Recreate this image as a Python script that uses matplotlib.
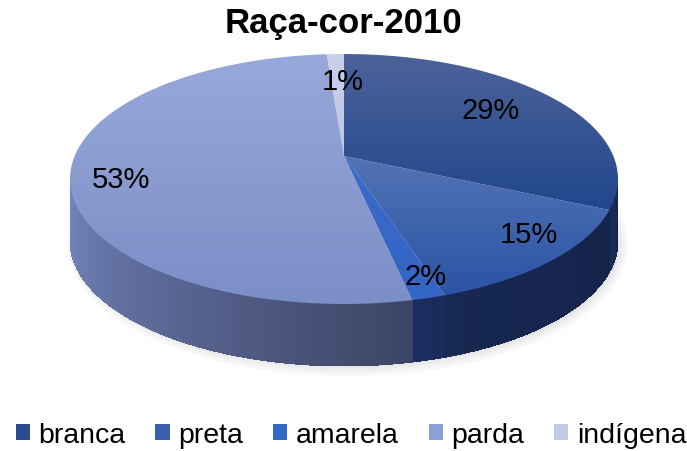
import numpy as np
import matplotlib.pyplot as plt
from matplotlib.patches import Polygon, Patch, Ellipse
from matplotlib.collections import PolyCollection
from matplotlib.colors import to_rgb

plt.rcParams['font.family'] = ['Liberation Sans', 'DejaVu Sans']

# ---------------------------------------------------------------------------
# Data
# ---------------------------------------------------------------------------
title = 'Raça-cor-2010'
labels = ['branca', 'preta', 'amarela', 'parda', 'indígena']
values = [29, 15, 2, 53, 1]

# ---------------------------------------------------------------------------
# Style (top gradient top->bottom, side gradient along the rim, legend swatch)
# ---------------------------------------------------------------------------
top_colors = [('#4d6399', '#21468d'), ('#5473b5', '#2a54a5'), ('#3c6ccb', '#3365c4'),
              ('#98a8da', '#7b8ec6'), ('#c9d1eb', '#bcc6e4')]
side_colors = [('#1a2b58', '#16264c'), ('#172851', '#14234a'), ('#1b2d60', '#1a2c5c'),
               ('#7587c0', '#3b4463'), ('#b0b9d8', '#b0b9d8')]
legend_colors = ['#2e4b8f', '#3a5fae', '#3468c8', '#8c9fd6', '#c3cbe5']
label_nudge = [(-27, 4), (20, 1), (14, 14), (-7, -4), (6, 14)]

W, H = 687, 452
CX, CY = 344, 180          # ellipse centre (pixels)
TIP = (344, 157)           # where the slices meet
A, B = 274, 125            # semi axes
DEPTH = 62


def ell(t):
    t = np.radians(t)
    return CX + A * np.cos(t), CY - B * np.sin(t)


fig = plt.figure(figsize=(W / 100, H / 100), dpi=100)
ax = fig.add_axes([0, 0, 1, 1])
ax.set_xlim(0, W)
ax.set_ylim(H, 0)
ax.axis('off')

# slice angles, clockwise from 12 o'clock
total = sum(values)
bounds = 90 - 360 * np.concatenate([[0], np.cumsum(values)]) / total

# soft shadow
for k, al in enumerate([0.05, 0.05, 0.06, 0.07]):
    ax.add_patch(Ellipse((CX + 4, CY + DEPTH + 4), 2 * (A + 6 - 3 * k), 2 * (B + 6 - 3 * k),
                         color='#888888', alpha=al, lw=0, zorder=0))

# side walls (only the front half of the rim is visible)
for i in range(len(values)):
    t_end, t_start = bounds[i], bounds[i + 1]   # t_start < t_end
    lo = t_start % 360
    hi = lo + (t_end - t_start)
    lo_v, hi_v = max(lo, 180), min(hi, 360)
    if hi_v <= lo_v:
        continue
    ts = np.linspace(lo_v, hi_v, 80)
    c0, c1 = np.array(to_rgb(side_colors[i][0])), np.array(to_rgb(side_colors[i][1]))
    quads, cols = [], []
    for j in range(len(ts) - 1):
        x0, y0 = ell(ts[j])
        x1, y1 = ell(min(ts[j + 1] + 0.3, hi_v))
        quads.append([(x0, y0), (x1, y1), (x1, y1 + DEPTH), (x0, y0 + DEPTH)])
        f = (j + 0.5) / (len(ts) - 1)
        cols.append(c0 * (1 - f) + c1 * f)
    ax.add_collection(PolyCollection(quads, facecolors=cols, edgecolors='none',
                                     antialiaseds=False, zorder=1))

# top surface
for i in range(len(values)):
    ts = np.linspace(bounds[i + 1], bounds[i], 120)
    xs, ys = ell(ts)
    pts = [TIP] + list(zip(xs, ys))
    poly = Polygon(pts, closed=True, facecolor='none', edgecolor='none', zorder=2)
    ax.add_patch(poly)
    y_top, y_bot = min(min(ys), TIP[1]), max(max(ys), TIP[1])
    c0, c1 = np.array(to_rgb(top_colors[i][0])), np.array(to_rgb(top_colors[i][1]))
    grad = np.linspace(0, 1, 256)[:, None, None]
    img = c0 * (1 - grad) + c1 * grad
    im = ax.imshow(img, extent=(CX - A, CX + A, y_bot, y_top), aspect='auto',
                   interpolation='bilinear', zorder=2)
    im.set_clip_path(poly)

# percentage labels
for i, v in enumerate(values):
    mid = np.radians((bounds[i] + bounds[i + 1]) / 2)
    lx = CX + 0.8 * A * np.cos(mid) + label_nudge[i][0]
    ly = 168 - 0.8 * B * np.sin(mid) + label_nudge[i][1]
    ax.text(lx, ly, f'{v}%', ha='center', va='center', fontsize=21, color='black', zorder=3)

ax.text(W / 2, 24, title, ha='center', va='center', fontsize=25, fontweight='bold')

handles = [Patch(facecolor=c, edgecolor='none', label=l) for c, l in zip(legend_colors, labels)]
fig.legend(handles=handles, loc='center', bbox_to_anchor=(0.511, 0.035), ncol=5,
           frameon=False, fontsize=20.5, handlelength=0.5, handleheight=0.5,
           handletextpad=0.3, columnspacing=1.05, borderpad=0.1)

fig.savefig('out.png', dpi=100)
